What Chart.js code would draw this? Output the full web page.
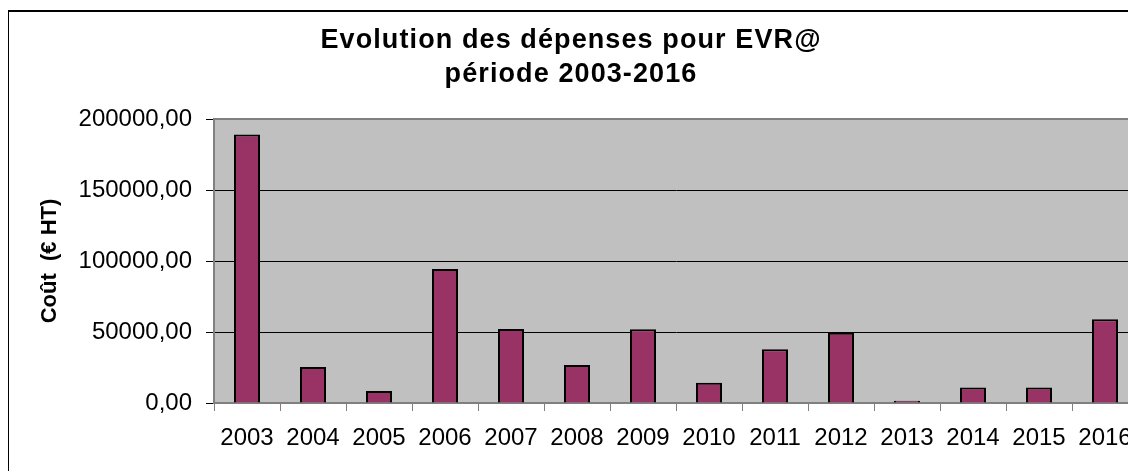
<!DOCTYPE html>
<html>
<head>
<meta charset="utf-8">
<script src="https://cdn.jsdelivr.net/npm/chart.js@4/dist/chart.umd.min.js"></script>
<style>
  html, body { margin: 0; padding: 0; background: #fff; overflow: hidden; }
  #wrap {
    position: absolute; left: 8px; top: 10px;
    border-left: 1px solid #000; border-top: 2px solid #000;
    width: 1160px; height: 470px;
  }
  canvas { display: block; }
</style>
</head>
<body>
<div id="wrap"><canvas id="chart" width="1160" height="460"></canvas></div>
<script>
const TITLE_LINES = ['Evolution des dépenses pour EVR@', 'période 2003-2016']
const Y_TITLE = 'Coût  (€ HT)'
const YEARS = ['2003', '2004', '2005', '2006', '2007', '2008', '2009', '2010', '2011', '2012', '2013', '2014', '2015', '2016']
const COSTS = [189000, 25400, 8450, 94400, 52100, 26800, 51900, 14300, 37800, 49500, 1600, 11000, 11000, 58900]
const Y_TICKS = [0, 50000, 100000, 150000, 200000]

const FONT = "'Liberation Sans', Arial, sans-serif"

// excel style plot: grey fill + grey frame
const plotArea = {
  id: 'plotArea',
  beforeDraw(chart) {
    const {ctx, chartArea: a} = chart
    ctx.save()
    ctx.fillStyle = '#c0c0c0'
    ctx.fillRect(a.left, a.top, a.right - a.left, a.bottom - a.top)
    ctx.restore()
  },
  beforeDatasetsDraw(chart) {
    const {ctx, chartArea: a} = chart
    ctx.save()
    ctx.strokeStyle = '#808080'
    ctx.lineWidth = 2
    ctx.strokeRect(a.left, a.top, a.right - a.left, a.bottom - a.top)
    ctx.restore()
  }
}

// two line bold title, a bit letter-spaced like the original
const spacedTitle = {
  id: 'spacedTitle',
  afterDraw(chart) {
    const ctx = chart.ctx
    ctx.save()
    ctx.font = 'bold 27px ' + FONT
    ctx.letterSpacing = '1.1px'
    ctx.fillStyle = '#000'
    ctx.textAlign = 'center'
    ctx.textBaseline = 'alphabetic'
    TITLE_LINES.forEach((line, i) => ctx.fillText(line, 562, 36 + i * 34))
    ctx.restore()
  }
}

new Chart(document.getElementById('chart'), {
  type: 'bar',
  data: {
    labels: YEARS,
    datasets: [{
      data: COSTS,
      backgroundColor: '#993366',
      borderColor: '#000',
      borderWidth: 2,
      barPercentage: 0.394,
      categoryPercentage: 1
    }]
  },
  options: {
    responsive: false,
    animation: false,
    devicePixelRatio: 1,
    layout: {padding: {left: 0, right: 31, top: 107, bottom: 0}},
    plugins: {legend: {display: false}, tooltip: {enabled: false}, title: {display: false}},
    scales: {
      x: {
        afterFit(scale) { scale.height = 69 },
        grid: {drawOnChartArea: false, drawTicks: true, tickLength: 8, color: '#808080', offset: true},
        border: {display: true, color: '#808080', width: 2},
        ticks: {color: '#000', font: {family: FONT, size: 24}, padding: 13, maxRotation: 0, autoSkip: false}
      },
      y: {
        min: 0,
        max: 200000,
        afterFit(scale) { scale.width = 205 },
        afterBuildTicks(scale) { scale.ticks = Y_TICKS.map(v => ({value: v})) },
        grid: {color: '#000', lineWidth: 1, tickLength: 8, drawTicks: true},
        border: {display: true, color: '#808080', width: 2},
        ticks: {
          color: '#000',
          font: {family: FONT, size: 24},
          padding: 14,
          callback: v => v.toFixed(2).replace('.', ',')
        },
        title: {
          display: true,
          text: Y_TITLE,
          color: '#000',
          font: {family: FONT, size: 22, weight: 'bold'},
          padding: {top: 28, bottom: 0}
        }
      }
    }
  },
  plugins: [plotArea, spacedTitle]
})
</script>
</body>
</html>
